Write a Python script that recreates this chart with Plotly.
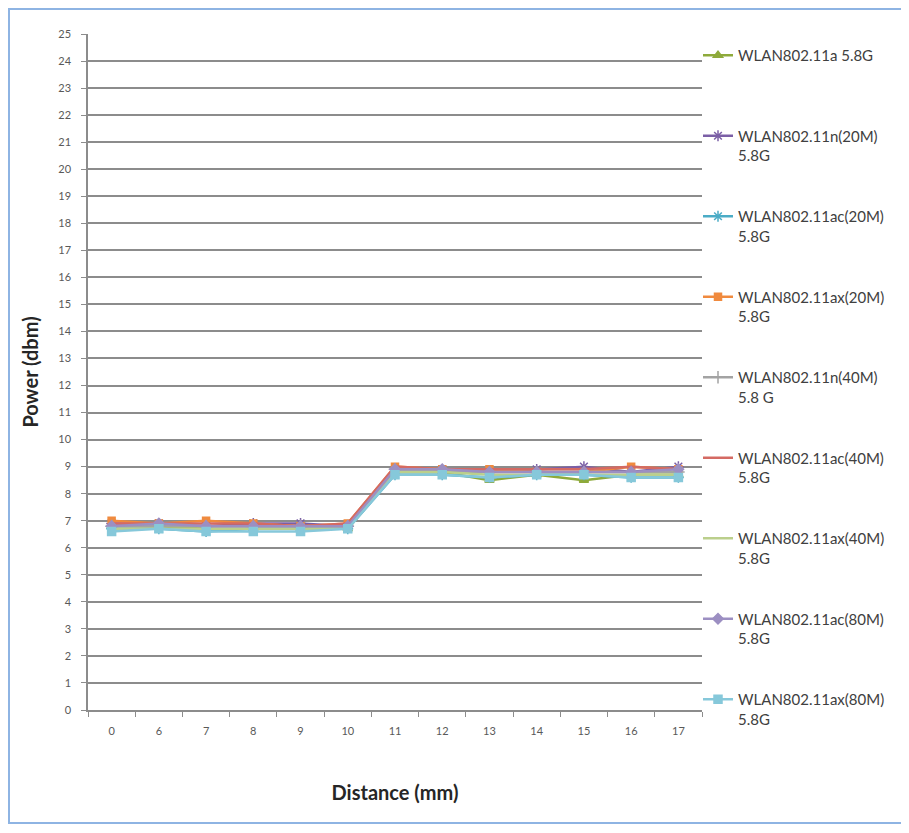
import plotly.graph_objects as go

# ---------------- data ----------------
distance = ["0", "6", "7", "8", "9", "10", "11", "12", "13", "14", "15", "16", "17"]

series_names = [
    "WLAN802.11a 5.8G",
    "WLAN802.11n(20M)<br>5.8G",
    "WLAN802.11ac(20M)<br>5.8G",
    "WLAN802.11ax(20M)<br>5.8G",
    "WLAN802.11n(40M)<br>5.8 G",
    "WLAN802.11ac(40M)<br>5.8G",
    "WLAN802.11ax(40M)<br>5.8G",
    "WLAN802.11ac(80M)<br>5.8G",
    "WLAN802.11ax(80M)<br>5.8G",
]

wlan_11a = [6.8, 6.8, 6.7, 6.7, 6.7, 6.7, 8.8, 8.8, 8.5, 8.7, 8.5, 8.7, 8.7]
wlan_11n_20 = [6.9, 6.9, 6.8, 6.9, 6.9, 6.8, 8.9, 8.9, 8.8, 8.9, 9.0, 8.8, 9.0]
wlan_11ac_20 = [6.7, 6.7, 6.6, 6.7, 6.7, 6.7, 8.7, 8.7, 8.6, 8.7, 8.7, 8.6, 8.6]
wlan_11ax_20 = [7.0, 6.9, 7.0, 6.9, 6.8, 6.9, 9.0, 8.9, 8.9, 8.8, 8.8, 9.0, 8.9]
wlan_11n_40 = [6.8, 6.8, 6.8, 6.8, 6.8, 6.8, 8.9, 8.8, 8.8, 8.8, 8.8, 8.8, 8.8]
wlan_11ac_40 = [6.9, 6.9, 6.9, 6.9, 6.8, 6.9, 9.0, 8.9, 8.9, 8.9, 8.9, 9.0, 8.9]
wlan_11ax_40 = [6.7, 6.7, 6.7, 6.7, 6.7, 6.7, 8.8, 8.8, 8.7, 8.7, 8.7, 8.7, 8.7]
wlan_11ac_80 = [6.8, 6.9, 6.8, 6.8, 6.8, 6.8, 8.9, 8.9, 8.8, 8.8, 8.8, 8.8, 8.9]
wlan_11ax_80 = [6.6, 6.7, 6.6, 6.6, 6.6, 6.7, 8.7, 8.7, 8.6, 8.7, 8.7, 8.6, 8.6]

y_ticks = list(range(0, 26))

# ---------------- styles ----------------
series_values = [wlan_11a, wlan_11n_20, wlan_11ac_20, wlan_11ax_20, wlan_11n_40,
                 wlan_11ac_40, wlan_11ax_40, wlan_11ac_80, wlan_11ax_80]
colors = ["#8EAA3B", "#7B5FA6", "#4BACC6", "#F08A3E", "#A3A3A3",
          "#D46A63", "#BBCF8C", "#9C8FC2", "#86C8DA"]
symbols = ["triangle-up", "asterisk-open", "asterisk-open", "square", "cross-thin-open",
           "circle", "circle", "diamond", "square"]
msizes = [8, 9, 9, 7, 9, 0, 0, 8, 8]

FONT = "Lato, 'Open Sans', sans-serif"

fig = go.Figure()
for i, (name, vals) in enumerate(zip(series_names, series_values)):
    label = name if "<br>" in name else name + "<br>\u00a0"
    mode = "lines+markers" if msizes[i] > 0 else "lines"
    fig.add_trace(go.Scatter(
        x=distance, y=vals, name=label, mode=mode, legendgroup=f"g{i}",
        line=dict(color=colors[i], width=2.5),
        marker=dict(symbol=symbols[i], size=max(msizes[i], 1), color=colors[i],
                    line=dict(color=colors[i], width=1.5)),
    ))

# the page body has an 8px margin, so the figure is drawn at (8, 8)
OFF = 8
W, H = 909 - OFF, 833 - 2 * OFF
# target plot area in screen pixels
L, R, T, B = 88 - OFF, 702 - OFF, 34 - OFF, 710 - OFF

def px_x(p):
    return (p - OFF - L) / (R - L)

def px_y(p):
    return (B - (p - OFF)) / (B - T)

fig.update_layout(
    width=W, height=H,
    margin=dict(l=L, r=W - R, t=T, b=H - B),
    paper_bgcolor="white", plot_bgcolor="white",
    font=dict(family=FONT, color="#404040"),
    showlegend=True,
    legend=dict(
        x=px_x(698), y=px_y(39), xanchor="left", yanchor="top",
        font=dict(size=15, color="#404040", family=FONT),
        tracegroupgap=38.5, valign="top", itemwidth=30, maxheight=820,
        bgcolor="rgba(0,0,0,0)",
    ),
    xaxis=dict(
        type="category", categoryorder="array", categoryarray=distance,
        range=[-0.5, len(distance) - 0.5],
        showgrid=False, showline=True, linecolor="#8C8C8C", linewidth=1.5,
        ticks="outside", tickson="boundaries", ticklen=5, tickcolor="#8C8C8C",
        tickfont=dict(size=11, color="#595959", family=FONT),
        ticklabelstandoff=10,
        title=dict(text="<b>Distance (mm)</b>", font=dict(size=20, color="#262626", family=FONT),
                   standoff=50),
        zeroline=False, fixedrange=True,
    ),
    yaxis=dict(
        range=[0, 25], tickvals=y_ticks, ticktext=[str(v) for v in y_ticks],
        showgrid=True, gridcolor="#8C8C8C", gridwidth=1.5,
        showline=True, linecolor="#8C8C8C", linewidth=1.5,
        ticks="outside", ticklen=5, tickcolor="#8C8C8C",
        tickfont=dict(size=11, color="#595959", family=FONT),
        ticklabelstandoff=8,
        title=dict(text="<b>Power (dbm)</b>", font=dict(size=20, color="#262626", family=FONT),
                   standoff=14),
        zeroline=False, fixedrange=True,
    ),
    shapes=[dict(
        type="rect", xref="paper", yref="paper",
        x0=px_x(9), x1=px_x(905), y0=px_y(823), y1=px_y(9),
        line=dict(color="#8EB4E3", width=2), fillcolor="rgba(0,0,0,0)", layer="below",
    )],
)

fig.write_html("out.html")
